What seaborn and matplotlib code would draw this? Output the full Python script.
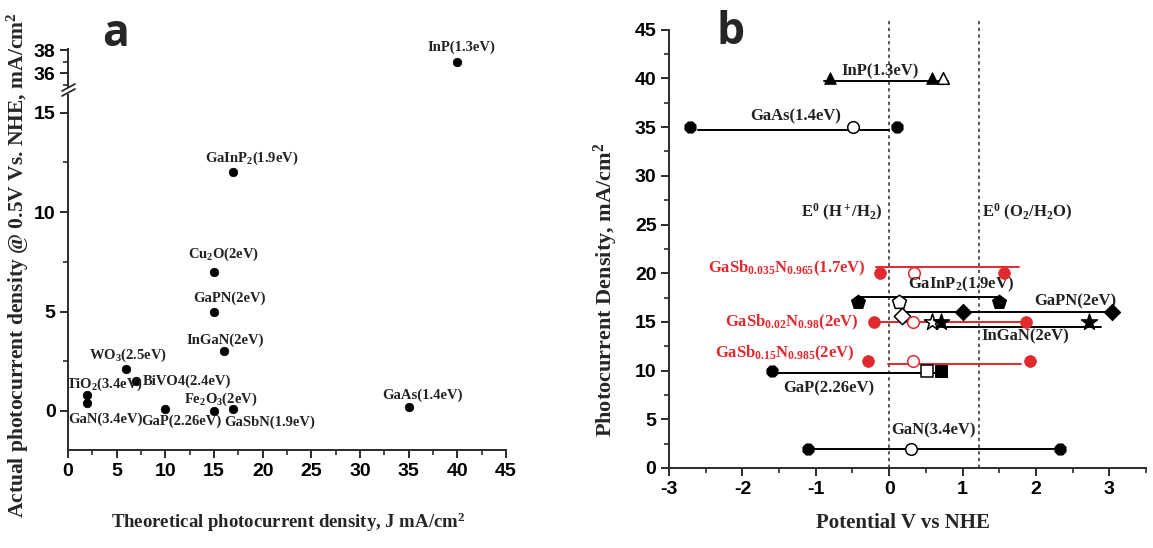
import matplotlib
matplotlib.use("Agg")
import matplotlib.pyplot as plt
from matplotlib.lines import Line2D
from matplotlib.ticker import MultipleLocator
import pandas as pd
import seaborn as sns

# ---- panel a: actual vs theoretical photocurrent ----
a_materials = ["InP(1.3eV)", "GaInP$_2$(1.9eV)", "Cu$_2$O(2eV)", "GaPN(2eV)", "InGaN(2eV)",
               "WO$_3$(2.5eV)", "BiVO4(2.4eV)", "TiO$_2$(3.4eV)", "GaN(3.4eV)", "GaP(2.26eV)",
               "Fe$_2$O$_3$(2eV)", "GaSbN(1.9eV)", "GaAs(1.4eV)"]
a_theoretical = [40, 17, 15, 15, 16, 6, 7, 2, 2, 10, 15, 17, 35]
a_actual = [37.0, 12.0, 7.0, 5.0, 3.0, 2.1, 1.5, 0.8, 0.4, 0.1, 0.0, 0.1, 0.2]

# ---- panel b: photocurrent window vs potential ----
b_materials = ["InP(1.3eV)", "GaAs(1.4eV)", "GaSb$_{0.035}$N$_{0.965}$(1.7eV)", "GaInP$_2$(1.9eV)",
               "GaPN(2eV)", "GaSb$_{0.02}$N$_{0.98}$(2eV)", "InGaN(2eV)",
               "GaSb$_{0.15}$N$_{0.985}$(2eV)", "GaP(2.26eV)", "GaN(3.4eV)"]
b_left = [-0.80, -2.71, -0.12, -0.42, 1.00, -0.21, 0.70, -0.29, -1.60, -1.10]
b_right = [0.58, 0.11, 1.56, 1.50, 3.03, 1.87, 2.73, 1.92, 0.71, 2.33]
b_open = [0.73, -0.49, 0.34, 0.13, 0.18, 0.33, 0.59, 0.33, 0.51, 0.30]
b_current = [40, 35, 20, 17, 16, 15, 15, 11, 10, 2]
b_open_current = [40, 35, 20, 17, 15.6, 15, 15, 11, 10, 2]
b_bar_from = [-0.89, -2.61, -0.18, -0.44, 0.18, -0.20, 0.70, -0.02, -1.60, -1.10]
b_bar_to = [0.80, 0.00, 1.77, 1.52, 3.04, 1.90, 2.88, 1.80, 0.70, 2.33]
b_bar_level = [39.7, 34.7, 20.6, 17.6, 16.0, 15.0, 14.5, 10.7, 9.8, 2.0]
red_series = [2, 5, 7]
e0_h2 = 0.0
e0_o2 = 1.23

# styling / layout
RED = "#e02a2f"
DARK = "#2b2b2b"
SERIF = ["Liberation Serif", "DejaVu Serif"]
left_marker = ["^", "8", "o", "p", "D", "o", "*", "o", "8", "8"]
right_marker = ["^", "8", "o", "p", "D", "o", "*", "o", "s", "8"]
open_marker = ["^", "o", "o", "p", "D", "o", "*", "o", "s", "o"]
marker_area = {"^": 70, "8": 75, "o": 70, "p": 110, "D": 70, "*": 150, "s": 70}
# label offsets in pixels from each point (panel a)
a_offsets = [(4, 14), (18, 14), (10, 17), (16, 13), (2, 11), (2, 14), (51, 0),
             (17, 11), (18, -16), (16, -12), (7, 12), (36, -13), (14, 12)]
# label anchors in data coords (panel b)
b_text_pos = [(-0.13, 40.7, "center"), (-1.28, 36.1, "center"), (-0.32, 20.5, "right"),
              (0.98, 18.8, "center"), (2.54, 17.1, "center"), (-0.42, 15.0, "right"),
              (1.85, 13.5, "center"), (-0.47, 11.8, "right"), (-0.82, 8.2, "center"),
              (0.61, 3.9, "center")]

sns.set_theme(style="ticks")
plt.rcParams["font.family"] = ["Liberation Sans Narrow", "Liberation Sans", "DejaVu Sans"]
plt.rcParams["font.weight"] = "bold"
plt.rcParams["axes.unicode_minus"] = False
plt.rcParams["mathtext.fontset"] = "custom"
plt.rcParams["mathtext.rm"] = "Liberation Serif:bold"
plt.rcParams["mathtext.it"] = "Liberation Serif:bold:italic"
plt.rcParams["mathtext.bf"] = "Liberation Serif:bold"
plt.rcParams["mathtext.default"] = "rm"

W, H = 1153, 548
fig = plt.figure(figsize=(W / 100, H / 100), dpi=100)


def px_box(x0, y0, x1, y1):
    return [x0 / W, 1 - y1 / H, (x1 - x0) / W, (y1 - y0) / H]


def style_axis(ax):
    for side in ["top", "right"]:
        ax.spines[side].set_visible(False)
    for side in ["left", "bottom"]:
        ax.spines[side].set_linewidth(1.4)
        ax.spines[side].set_color(DARK)
    ax.tick_params(which="major", direction="out", length=6, width=1.4, color=DARK,
                   labelsize=14, labelcolor="black", pad=3)
    ax.tick_params(which="minor", direction="out", length=3.5, width=1.2, color=DARK)
    ax.set_facecolor("white")


ax_bot = fig.add_axes(px_box(68, 95, 506, 450))
ax_top = fig.add_axes(px_box(68, 49, 506, 86))
ax_b = fig.add_axes(px_box(669, 29.7, 1146, 468))

df_a = pd.DataFrame({"theoretical": a_theoretical, "actual": a_actual, "material": a_materials})
for ax in (ax_bot, ax_top):
    sns.scatterplot(data=df_a, x="theoretical", y="actual", ax=ax, color="black",
                    edgecolor="black", s=38, legend=False, zorder=3)
    style_axis(ax)
    ax.set_xlim(0, 45)
    ax.set_xlabel("")
    ax.set_ylabel("")

ax_bot.set_ylim(-1.96, 15.88)
ax_bot.xaxis.set_major_locator(MultipleLocator(5))
ax_bot.xaxis.set_minor_locator(MultipleLocator(2.5))
ax_bot.yaxis.set_major_locator(MultipleLocator(5))
ax_bot.yaxis.set_minor_locator(MultipleLocator(2.5))

ax_top.set_ylim(34.87, 38.09)
ax_top.spines["bottom"].set_visible(False)
ax_top.tick_params(axis="x", which="both", bottom=False, labelbottom=False)
ax_top.set_yticks([36, 38])
ax_top.yaxis.set_minor_locator(MultipleLocator(1))

for name, xv, yv, (dx, dy) in zip(a_materials, a_theoretical, a_actual, a_offsets):
    ax = ax_top if yv > 20 else ax_bot
    ax.annotate(name, (xv, yv), xytext=(dx, dy), textcoords="offset pixels",
                ha="center", va="center", fontsize=10.5, family=SERIF,
                fontweight="bold", color="#222222")

# axis break marks
for dy in (0, 5):
    fig.add_artist(Line2D([62 / W, 75 / W], [1 - (91 + dy) / H, 1 - (84 + dy) / H],
                          color=DARK, lw=1.3))

fig.text(18 / W, 1 - 265 / H, "Actual photocurrent density @ 0.5V Vs. NHE, mA/cm$^2$",
         rotation=90, ha="center", va="center", fontsize=15.5, family=SERIF, fontweight="bold")
fig.text(288 / W, 1 - 522 / H, "Theoretical photocurrent density, J mA/cm$^2$",
         ha="center", va="center", fontsize=13.5, family=SERIF, fontweight="bold")
fig.text(116 / W, 1 - 35 / H, "a", ha="center", va="center", fontsize=32,
         family=["Open Sans", "DejaVu Sans"], fontweight="bold")

# ---- panel b ----
style_axis(ax_b)
ax_b.set_xlim(-3, 3.5)
ax_b.set_ylim(0, 45)
ax_b.xaxis.set_major_locator(MultipleLocator(1))
ax_b.xaxis.set_minor_locator(MultipleLocator(0.5))
ax_b.yaxis.set_major_locator(MultipleLocator(5))
ax_b.yaxis.set_minor_locator(MultipleLocator(2.5))
ax_b.set_xticks([-3, -2, -1, 0, 1, 2, 3])

for xv in (e0_h2, e0_o2):
    ax_b.axvline(xv, ymin=0, ymax=1.02, ls=(0, (2.2, 2.2)), color=DARK, lw=1.1,
                 clip_on=False, zorder=1)

for i, name in enumerate(b_materials):
    col = RED if i in red_series else "black"
    ax_b.plot([b_bar_from[i], b_bar_to[i]], [b_bar_level[i], b_bar_level[i]],
              color=col, lw=1.4, zorder=2)
    sns.scatterplot(x=[b_left[i]], y=[b_current[i]], ax=ax_b, marker=left_marker[i],
                    color=col, edgecolor=col, s=marker_area[left_marker[i]],
                    legend=False, zorder=4)
    sns.scatterplot(x=[b_right[i]], y=[b_current[i]], ax=ax_b, marker=right_marker[i],
                    color=col, edgecolor=col, s=marker_area[right_marker[i]],
                    legend=False, zorder=4)
    sns.scatterplot(x=[b_open[i]], y=[b_open_current[i]], ax=ax_b, marker=open_marker[i],
                    color="white", edgecolor=col, linewidth=1.1,
                    s=marker_area[open_marker[i]], legend=False, zorder=3)
    tx, ty, ha = b_text_pos[i]
    ax_b.text(tx, ty, name, ha=ha, va="center", fontsize=12, family=SERIF,
              fontweight="bold", color=col if col == RED else "#222222")

ax_b.text(-0.65, 26.2, "E$^0$ (H$^+$/H$_2$)", ha="center", va="center", fontsize=12,
          family=SERIF, fontweight="bold", color="#222222")
ax_b.text(1.88, 26.2, "E$^0$ (O$_2$/H$_2$O)", ha="center", va="center", fontsize=12,
          family=SERIF, fontweight="bold", color="#222222")
ax_b.set_xlabel("")
ax_b.set_ylabel("")

fig.text(606 / W, 1 - 290 / H, "Photocurrent Density, mA/cm$^2$", rotation=90,
         ha="center", va="center", fontsize=16, family=SERIF, fontweight="bold")
fig.text(903 / W, 1 - 523 / H, "Potential V vs NHE", ha="center", va="center",
         fontsize=15, family=SERIF, fontweight="bold")
fig.text(731 / W, 1 - 32 / H, "b", ha="center", va="center", fontsize=32,
         family=["Open Sans", "DejaVu Sans"], fontweight="bold")

fig.savefig("out.png", dpi=100, facecolor="white")
